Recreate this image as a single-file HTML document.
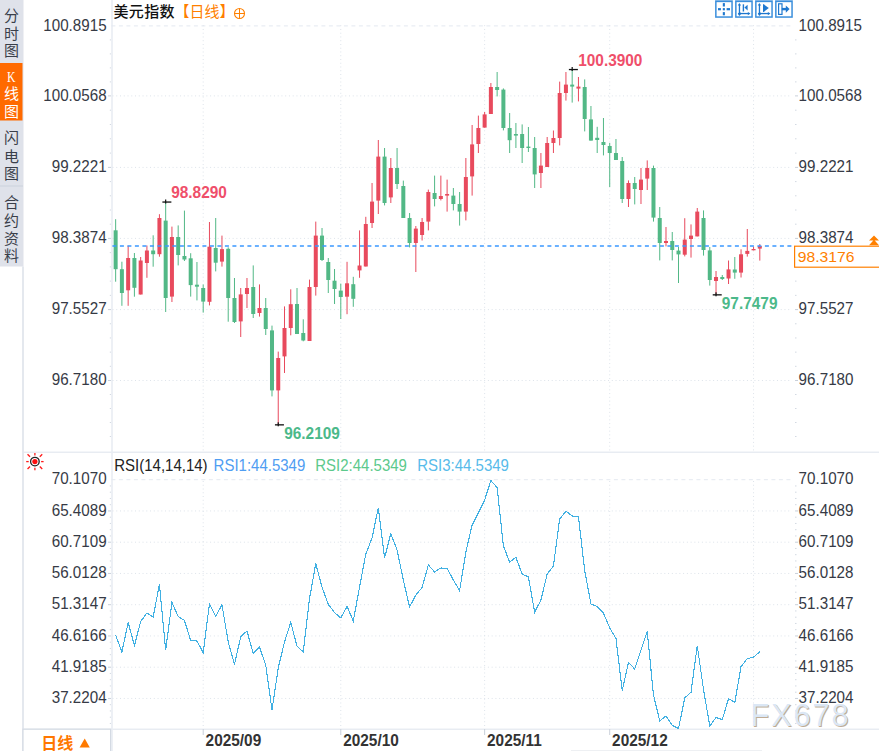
<!DOCTYPE html><html><head><meta charset="utf-8"><title>美元指数 日线</title><style>
html,body{margin:0;padding:0;background:#fff;}body{width:879px;height:751px;overflow:hidden;position:relative;}
svg{position:absolute;left:0;top:0;display:block;}
text{font-family:"Liberation Sans", Arial, "Noto Sans CJK SC", sans-serif;}
.cjk{font-family:"Liberation Sans", "Noto Sans CJK SC", "WenQuanYi Zen Hei", sans-serif;}
</style></head><body>
<svg width="879" height="751" viewBox="0 0 879 751">
<rect width="879" height="751" fill="#fff"/>
<rect x="0" y="0" width="23.5" height="266.5" fill="#dfe2ea"/>
<rect x="0" y="63" width="22.5" height="57.5" fill="#ff6a00"/>
<rect x="0" y="185.5" width="23" height="1" fill="#ccd2db"/>
<text class="cjk" x="11.5" y="21.2" font-size="15" fill="#3a3f4a" text-anchor="middle">分</text>
<text class="cjk" x="11.5" y="38.9" font-size="15" fill="#3a3f4a" text-anchor="middle">时</text>
<text class="cjk" x="11.5" y="56.3" font-size="15" fill="#3a3f4a" text-anchor="middle">图</text>
<text class="cjk" x="11.5" y="99.2" font-size="15" fill="#ffffff" text-anchor="middle">线</text>
<text class="cjk" x="11.5" y="116.6" font-size="15" fill="#ffffff" text-anchor="middle">图</text>
<text transform="translate(11.3 81.5) scale(0.76 1)" font-size="15.5" fill="#fff" text-anchor="middle" style="font-family:'Liberation Serif',serif">K</text>
<text class="cjk" x="11.5" y="143.4" font-size="15" fill="#3a3f4a" text-anchor="middle">闪</text>
<text class="cjk" x="11.5" y="162.0" font-size="15" fill="#3a3f4a" text-anchor="middle">电</text>
<text class="cjk" x="11.5" y="179.4" font-size="15" fill="#3a3f4a" text-anchor="middle">图</text>
<text class="cjk" x="11.5" y="207.7" font-size="15" fill="#3a3f4a" text-anchor="middle">合</text>
<text class="cjk" x="11.5" y="226.0" font-size="15" fill="#3a3f4a" text-anchor="middle">约</text>
<text class="cjk" x="11.5" y="244.0" font-size="15" fill="#3a3f4a" text-anchor="middle">资</text>
<text class="cjk" x="11.5" y="261.3" font-size="15" fill="#3a3f4a" text-anchor="middle">料</text>
<rect x="22.3" y="266.5" width="1.4" height="484.5" fill="#d9dfe7"/>
<rect x="23" y="451.6" width="856" height="1.2" fill="#e3e8ef"/>
<rect x="23" y="728.6" width="856" height="1.2" fill="#e3e8ef"/>
<rect x="111.2" y="0" width="1.6" height="751" fill="#e9edf3"/>
<line x1="111.4" y1="25.90" x2="792" y2="25.90" stroke="#e4e9f0" stroke-width="1" stroke-dasharray="4 3.5"/>
<line x1="112.5" y1="95.90" x2="792" y2="95.90" stroke="#dde3ea" stroke-width="1" stroke-dasharray="1 2.754"/>
<line x1="112.5" y1="167.40" x2="792" y2="167.40" stroke="#dde3ea" stroke-width="1" stroke-dasharray="1 2.754"/>
<line x1="112.5" y1="238.40" x2="792" y2="238.40" stroke="#dde3ea" stroke-width="1" stroke-dasharray="1 2.754"/>
<line x1="112.5" y1="309.60" x2="792" y2="309.60" stroke="#dde3ea" stroke-width="1" stroke-dasharray="1 2.754"/>
<line x1="112.5" y1="380.50" x2="792" y2="380.50" stroke="#dde3ea" stroke-width="1" stroke-dasharray="1 2.754"/>
<line x1="111.4" y1="479.70" x2="792" y2="479.70" stroke="#e4e9f0" stroke-width="1" stroke-dasharray="4 3.5"/>
<line x1="112.5" y1="510.95" x2="792" y2="510.95" stroke="#dde3ea" stroke-width="1" stroke-dasharray="1 2.754"/>
<line x1="112.5" y1="542.20" x2="792" y2="542.20" stroke="#dde3ea" stroke-width="1" stroke-dasharray="1 2.754"/>
<line x1="112.5" y1="573.45" x2="792" y2="573.45" stroke="#dde3ea" stroke-width="1" stroke-dasharray="1 2.754"/>
<line x1="112.5" y1="604.70" x2="792" y2="604.70" stroke="#dde3ea" stroke-width="1" stroke-dasharray="1 2.754"/>
<line x1="112.5" y1="635.95" x2="792" y2="635.95" stroke="#dde3ea" stroke-width="1" stroke-dasharray="1 2.754"/>
<line x1="112.5" y1="667.20" x2="792" y2="667.20" stroke="#dde3ea" stroke-width="1" stroke-dasharray="1 2.754"/>
<line x1="112.5" y1="698.45" x2="792" y2="698.45" stroke="#dde3ea" stroke-width="1" stroke-dasharray="1 2.754"/>
<line x1="203.20" y1="25.2" x2="203.20" y2="451" stroke="#dde3ea" stroke-width="1" stroke-dasharray="1 2.754"/>
<line x1="203.20" y1="481" x2="203.20" y2="728" stroke="#dde3ea" stroke-width="1" stroke-dasharray="1 2.754"/>
<line x1="340.78" y1="25.2" x2="340.78" y2="451" stroke="#dde3ea" stroke-width="1" stroke-dasharray="1 2.754"/>
<line x1="340.78" y1="481" x2="340.78" y2="728" stroke="#dde3ea" stroke-width="1" stroke-dasharray="1 2.754"/>
<line x1="484.63" y1="25.2" x2="484.63" y2="451" stroke="#dde3ea" stroke-width="1" stroke-dasharray="1 2.754"/>
<line x1="484.63" y1="481" x2="484.63" y2="728" stroke="#dde3ea" stroke-width="1" stroke-dasharray="1 2.754"/>
<line x1="609.71" y1="25.2" x2="609.71" y2="451" stroke="#dde3ea" stroke-width="1" stroke-dasharray="1 2.754"/>
<line x1="609.71" y1="481" x2="609.71" y2="728" stroke="#dde3ea" stroke-width="1" stroke-dasharray="1 2.754"/>
<line x1="753.55" y1="25.2" x2="753.55" y2="451" stroke="#dde3ea" stroke-width="1" stroke-dasharray="1 2.754"/>
<line x1="753.55" y1="481" x2="753.55" y2="728" stroke="#dde3ea" stroke-width="1" stroke-dasharray="1 2.754"/>
<line x1="109.8" y1="39.90" x2="111" y2="39.90" stroke="#d3d9e2" stroke-width="1"/>
<line x1="109.8" y1="53.90" x2="111" y2="53.90" stroke="#d3d9e2" stroke-width="1"/>
<line x1="109.8" y1="67.90" x2="111" y2="67.90" stroke="#d3d9e2" stroke-width="1"/>
<line x1="109.8" y1="81.90" x2="111" y2="81.90" stroke="#d3d9e2" stroke-width="1"/>
<line x1="108" y1="95.90" x2="111" y2="95.90" stroke="#c9d0da" stroke-width="1"/>
<line x1="109.8" y1="110.20" x2="111" y2="110.20" stroke="#d3d9e2" stroke-width="1"/>
<line x1="109.8" y1="124.50" x2="111" y2="124.50" stroke="#d3d9e2" stroke-width="1"/>
<line x1="109.8" y1="138.80" x2="111" y2="138.80" stroke="#d3d9e2" stroke-width="1"/>
<line x1="109.8" y1="153.10" x2="111" y2="153.10" stroke="#d3d9e2" stroke-width="1"/>
<line x1="108" y1="167.40" x2="111" y2="167.40" stroke="#c9d0da" stroke-width="1"/>
<line x1="109.8" y1="181.60" x2="111" y2="181.60" stroke="#d3d9e2" stroke-width="1"/>
<line x1="109.8" y1="195.80" x2="111" y2="195.80" stroke="#d3d9e2" stroke-width="1"/>
<line x1="109.8" y1="210.00" x2="111" y2="210.00" stroke="#d3d9e2" stroke-width="1"/>
<line x1="109.8" y1="224.20" x2="111" y2="224.20" stroke="#d3d9e2" stroke-width="1"/>
<line x1="108" y1="238.40" x2="111" y2="238.40" stroke="#c9d0da" stroke-width="1"/>
<line x1="109.8" y1="252.64" x2="111" y2="252.64" stroke="#d3d9e2" stroke-width="1"/>
<line x1="109.8" y1="266.88" x2="111" y2="266.88" stroke="#d3d9e2" stroke-width="1"/>
<line x1="109.8" y1="281.12" x2="111" y2="281.12" stroke="#d3d9e2" stroke-width="1"/>
<line x1="109.8" y1="295.36" x2="111" y2="295.36" stroke="#d3d9e2" stroke-width="1"/>
<line x1="108" y1="309.60" x2="111" y2="309.60" stroke="#c9d0da" stroke-width="1"/>
<line x1="109.8" y1="323.78" x2="111" y2="323.78" stroke="#d3d9e2" stroke-width="1"/>
<line x1="109.8" y1="337.96" x2="111" y2="337.96" stroke="#d3d9e2" stroke-width="1"/>
<line x1="109.8" y1="352.14" x2="111" y2="352.14" stroke="#d3d9e2" stroke-width="1"/>
<line x1="109.8" y1="366.32" x2="111" y2="366.32" stroke="#d3d9e2" stroke-width="1"/>
<line x1="108" y1="380.50" x2="111" y2="380.50" stroke="#c9d0da" stroke-width="1"/>
<line x1="109.8" y1="394.50" x2="111" y2="394.50" stroke="#d3d9e2" stroke-width="1"/>
<line x1="109.8" y1="408.50" x2="111" y2="408.50" stroke="#d3d9e2" stroke-width="1"/>
<line x1="109.8" y1="422.50" x2="111" y2="422.50" stroke="#d3d9e2" stroke-width="1"/>
<line x1="109.8" y1="436.50" x2="111" y2="436.50" stroke="#d3d9e2" stroke-width="1"/>
<line x1="109.8" y1="485.95" x2="111" y2="485.95" stroke="#d3d9e2" stroke-width="1"/>
<line x1="109.8" y1="492.20" x2="111" y2="492.20" stroke="#d3d9e2" stroke-width="1"/>
<line x1="109.8" y1="498.45" x2="111" y2="498.45" stroke="#d3d9e2" stroke-width="1"/>
<line x1="109.8" y1="504.70" x2="111" y2="504.70" stroke="#d3d9e2" stroke-width="1"/>
<line x1="108" y1="510.95" x2="111" y2="510.95" stroke="#c9d0da" stroke-width="1"/>
<line x1="109.8" y1="517.20" x2="111" y2="517.20" stroke="#d3d9e2" stroke-width="1"/>
<line x1="109.8" y1="523.45" x2="111" y2="523.45" stroke="#d3d9e2" stroke-width="1"/>
<line x1="109.8" y1="529.70" x2="111" y2="529.70" stroke="#d3d9e2" stroke-width="1"/>
<line x1="109.8" y1="535.95" x2="111" y2="535.95" stroke="#d3d9e2" stroke-width="1"/>
<line x1="108" y1="542.20" x2="111" y2="542.20" stroke="#c9d0da" stroke-width="1"/>
<line x1="109.8" y1="548.45" x2="111" y2="548.45" stroke="#d3d9e2" stroke-width="1"/>
<line x1="109.8" y1="554.70" x2="111" y2="554.70" stroke="#d3d9e2" stroke-width="1"/>
<line x1="109.8" y1="560.95" x2="111" y2="560.95" stroke="#d3d9e2" stroke-width="1"/>
<line x1="109.8" y1="567.20" x2="111" y2="567.20" stroke="#d3d9e2" stroke-width="1"/>
<line x1="108" y1="573.45" x2="111" y2="573.45" stroke="#c9d0da" stroke-width="1"/>
<line x1="109.8" y1="579.70" x2="111" y2="579.70" stroke="#d3d9e2" stroke-width="1"/>
<line x1="109.8" y1="585.95" x2="111" y2="585.95" stroke="#d3d9e2" stroke-width="1"/>
<line x1="109.8" y1="592.20" x2="111" y2="592.20" stroke="#d3d9e2" stroke-width="1"/>
<line x1="109.8" y1="598.45" x2="111" y2="598.45" stroke="#d3d9e2" stroke-width="1"/>
<line x1="108" y1="604.70" x2="111" y2="604.70" stroke="#c9d0da" stroke-width="1"/>
<line x1="109.8" y1="610.95" x2="111" y2="610.95" stroke="#d3d9e2" stroke-width="1"/>
<line x1="109.8" y1="617.20" x2="111" y2="617.20" stroke="#d3d9e2" stroke-width="1"/>
<line x1="109.8" y1="623.45" x2="111" y2="623.45" stroke="#d3d9e2" stroke-width="1"/>
<line x1="109.8" y1="629.70" x2="111" y2="629.70" stroke="#d3d9e2" stroke-width="1"/>
<line x1="108" y1="635.95" x2="111" y2="635.95" stroke="#c9d0da" stroke-width="1"/>
<line x1="109.8" y1="642.20" x2="111" y2="642.20" stroke="#d3d9e2" stroke-width="1"/>
<line x1="109.8" y1="648.45" x2="111" y2="648.45" stroke="#d3d9e2" stroke-width="1"/>
<line x1="109.8" y1="654.70" x2="111" y2="654.70" stroke="#d3d9e2" stroke-width="1"/>
<line x1="109.8" y1="660.95" x2="111" y2="660.95" stroke="#d3d9e2" stroke-width="1"/>
<line x1="108" y1="667.20" x2="111" y2="667.20" stroke="#c9d0da" stroke-width="1"/>
<line x1="109.8" y1="673.45" x2="111" y2="673.45" stroke="#d3d9e2" stroke-width="1"/>
<line x1="109.8" y1="679.70" x2="111" y2="679.70" stroke="#d3d9e2" stroke-width="1"/>
<line x1="109.8" y1="685.95" x2="111" y2="685.95" stroke="#d3d9e2" stroke-width="1"/>
<line x1="109.8" y1="692.20" x2="111" y2="692.20" stroke="#d3d9e2" stroke-width="1"/>
<line x1="108" y1="698.45" x2="111" y2="698.45" stroke="#c9d0da" stroke-width="1"/>
<line x1="109.8" y1="704.70" x2="111" y2="704.70" stroke="#d3d9e2" stroke-width="1"/>
<line x1="109.8" y1="710.95" x2="111" y2="710.95" stroke="#d3d9e2" stroke-width="1"/>
<line x1="109.8" y1="717.20" x2="111" y2="717.20" stroke="#d3d9e2" stroke-width="1"/>
<line x1="109.8" y1="723.45" x2="111" y2="723.45" stroke="#d3d9e2" stroke-width="1"/>
<line x1="795" y1="39.90" x2="796.5" y2="39.90" stroke="#d3d9e2" stroke-width="1"/>
<line x1="795" y1="53.90" x2="796.5" y2="53.90" stroke="#d3d9e2" stroke-width="1"/>
<line x1="795" y1="67.90" x2="796.5" y2="67.90" stroke="#d3d9e2" stroke-width="1"/>
<line x1="795" y1="81.90" x2="796.5" y2="81.90" stroke="#d3d9e2" stroke-width="1"/>
<line x1="795" y1="95.90" x2="798" y2="95.90" stroke="#c9d0da" stroke-width="1"/>
<line x1="795" y1="110.20" x2="796.5" y2="110.20" stroke="#d3d9e2" stroke-width="1"/>
<line x1="795" y1="124.50" x2="796.5" y2="124.50" stroke="#d3d9e2" stroke-width="1"/>
<line x1="795" y1="138.80" x2="796.5" y2="138.80" stroke="#d3d9e2" stroke-width="1"/>
<line x1="795" y1="153.10" x2="796.5" y2="153.10" stroke="#d3d9e2" stroke-width="1"/>
<line x1="795" y1="167.40" x2="798" y2="167.40" stroke="#c9d0da" stroke-width="1"/>
<line x1="795" y1="181.60" x2="796.5" y2="181.60" stroke="#d3d9e2" stroke-width="1"/>
<line x1="795" y1="195.80" x2="796.5" y2="195.80" stroke="#d3d9e2" stroke-width="1"/>
<line x1="795" y1="210.00" x2="796.5" y2="210.00" stroke="#d3d9e2" stroke-width="1"/>
<line x1="795" y1="224.20" x2="796.5" y2="224.20" stroke="#d3d9e2" stroke-width="1"/>
<line x1="795" y1="238.40" x2="798" y2="238.40" stroke="#c9d0da" stroke-width="1"/>
<line x1="795" y1="252.64" x2="796.5" y2="252.64" stroke="#d3d9e2" stroke-width="1"/>
<line x1="795" y1="266.88" x2="796.5" y2="266.88" stroke="#d3d9e2" stroke-width="1"/>
<line x1="795" y1="281.12" x2="796.5" y2="281.12" stroke="#d3d9e2" stroke-width="1"/>
<line x1="795" y1="295.36" x2="796.5" y2="295.36" stroke="#d3d9e2" stroke-width="1"/>
<line x1="795" y1="309.60" x2="798" y2="309.60" stroke="#c9d0da" stroke-width="1"/>
<line x1="795" y1="323.78" x2="796.5" y2="323.78" stroke="#d3d9e2" stroke-width="1"/>
<line x1="795" y1="337.96" x2="796.5" y2="337.96" stroke="#d3d9e2" stroke-width="1"/>
<line x1="795" y1="352.14" x2="796.5" y2="352.14" stroke="#d3d9e2" stroke-width="1"/>
<line x1="795" y1="366.32" x2="796.5" y2="366.32" stroke="#d3d9e2" stroke-width="1"/>
<line x1="795" y1="380.50" x2="798" y2="380.50" stroke="#c9d0da" stroke-width="1"/>
<line x1="795" y1="394.50" x2="796.5" y2="394.50" stroke="#d3d9e2" stroke-width="1"/>
<line x1="795" y1="408.50" x2="796.5" y2="408.50" stroke="#d3d9e2" stroke-width="1"/>
<line x1="795" y1="422.50" x2="796.5" y2="422.50" stroke="#d3d9e2" stroke-width="1"/>
<line x1="795" y1="436.50" x2="796.5" y2="436.50" stroke="#d3d9e2" stroke-width="1"/>
<line x1="795" y1="485.95" x2="796.5" y2="485.95" stroke="#d3d9e2" stroke-width="1"/>
<line x1="795" y1="492.20" x2="796.5" y2="492.20" stroke="#d3d9e2" stroke-width="1"/>
<line x1="795" y1="498.45" x2="796.5" y2="498.45" stroke="#d3d9e2" stroke-width="1"/>
<line x1="795" y1="504.70" x2="796.5" y2="504.70" stroke="#d3d9e2" stroke-width="1"/>
<line x1="795" y1="510.95" x2="798" y2="510.95" stroke="#c9d0da" stroke-width="1"/>
<line x1="795" y1="517.20" x2="796.5" y2="517.20" stroke="#d3d9e2" stroke-width="1"/>
<line x1="795" y1="523.45" x2="796.5" y2="523.45" stroke="#d3d9e2" stroke-width="1"/>
<line x1="795" y1="529.70" x2="796.5" y2="529.70" stroke="#d3d9e2" stroke-width="1"/>
<line x1="795" y1="535.95" x2="796.5" y2="535.95" stroke="#d3d9e2" stroke-width="1"/>
<line x1="795" y1="542.20" x2="798" y2="542.20" stroke="#c9d0da" stroke-width="1"/>
<line x1="795" y1="548.45" x2="796.5" y2="548.45" stroke="#d3d9e2" stroke-width="1"/>
<line x1="795" y1="554.70" x2="796.5" y2="554.70" stroke="#d3d9e2" stroke-width="1"/>
<line x1="795" y1="560.95" x2="796.5" y2="560.95" stroke="#d3d9e2" stroke-width="1"/>
<line x1="795" y1="567.20" x2="796.5" y2="567.20" stroke="#d3d9e2" stroke-width="1"/>
<line x1="795" y1="573.45" x2="798" y2="573.45" stroke="#c9d0da" stroke-width="1"/>
<line x1="795" y1="579.70" x2="796.5" y2="579.70" stroke="#d3d9e2" stroke-width="1"/>
<line x1="795" y1="585.95" x2="796.5" y2="585.95" stroke="#d3d9e2" stroke-width="1"/>
<line x1="795" y1="592.20" x2="796.5" y2="592.20" stroke="#d3d9e2" stroke-width="1"/>
<line x1="795" y1="598.45" x2="796.5" y2="598.45" stroke="#d3d9e2" stroke-width="1"/>
<line x1="795" y1="604.70" x2="798" y2="604.70" stroke="#c9d0da" stroke-width="1"/>
<line x1="795" y1="610.95" x2="796.5" y2="610.95" stroke="#d3d9e2" stroke-width="1"/>
<line x1="795" y1="617.20" x2="796.5" y2="617.20" stroke="#d3d9e2" stroke-width="1"/>
<line x1="795" y1="623.45" x2="796.5" y2="623.45" stroke="#d3d9e2" stroke-width="1"/>
<line x1="795" y1="629.70" x2="796.5" y2="629.70" stroke="#d3d9e2" stroke-width="1"/>
<line x1="795" y1="635.95" x2="798" y2="635.95" stroke="#c9d0da" stroke-width="1"/>
<line x1="795" y1="642.20" x2="796.5" y2="642.20" stroke="#d3d9e2" stroke-width="1"/>
<line x1="795" y1="648.45" x2="796.5" y2="648.45" stroke="#d3d9e2" stroke-width="1"/>
<line x1="795" y1="654.70" x2="796.5" y2="654.70" stroke="#d3d9e2" stroke-width="1"/>
<line x1="795" y1="660.95" x2="796.5" y2="660.95" stroke="#d3d9e2" stroke-width="1"/>
<line x1="795" y1="667.20" x2="798" y2="667.20" stroke="#c9d0da" stroke-width="1"/>
<line x1="795" y1="673.45" x2="796.5" y2="673.45" stroke="#d3d9e2" stroke-width="1"/>
<line x1="795" y1="679.70" x2="796.5" y2="679.70" stroke="#d3d9e2" stroke-width="1"/>
<line x1="795" y1="685.95" x2="796.5" y2="685.95" stroke="#d3d9e2" stroke-width="1"/>
<line x1="795" y1="692.20" x2="796.5" y2="692.20" stroke="#d3d9e2" stroke-width="1"/>
<line x1="795" y1="698.45" x2="798" y2="698.45" stroke="#c9d0da" stroke-width="1"/>
<line x1="795" y1="704.70" x2="796.5" y2="704.70" stroke="#d3d9e2" stroke-width="1"/>
<line x1="795" y1="710.95" x2="796.5" y2="710.95" stroke="#d3d9e2" stroke-width="1"/>
<line x1="795" y1="717.20" x2="796.5" y2="717.20" stroke="#d3d9e2" stroke-width="1"/>
<line x1="795" y1="723.45" x2="796.5" y2="723.45" stroke="#d3d9e2" stroke-width="1"/>
<text transform="translate(106.60 30.50) scale(1 1.100)" font-size="15.2" fill="#363a45" text-anchor="end">100.8915</text>
<text transform="translate(798.60 30.50) scale(1 1.100)" font-size="15.2" fill="#363a45">100.8915</text>
<text transform="translate(106.60 100.50) scale(1 1.100)" font-size="15.2" fill="#363a45" text-anchor="end">100.0568</text>
<text transform="translate(798.60 100.50) scale(1 1.100)" font-size="15.2" fill="#363a45">100.0568</text>
<text transform="translate(106.60 172.00) scale(1 1.100)" font-size="15.2" fill="#363a45" text-anchor="end">99.2221</text>
<text transform="translate(798.60 172.00) scale(1 1.100)" font-size="15.2" fill="#363a45">99.2221</text>
<text transform="translate(106.60 243.00) scale(1 1.100)" font-size="15.2" fill="#363a45" text-anchor="end">98.3874</text>
<text transform="translate(798.60 243.00) scale(1 1.100)" font-size="15.2" fill="#363a45">98.3874</text>
<text transform="translate(106.60 314.20) scale(1 1.100)" font-size="15.2" fill="#363a45" text-anchor="end">97.5527</text>
<text transform="translate(798.60 314.20) scale(1 1.100)" font-size="15.2" fill="#363a45">97.5527</text>
<text transform="translate(106.60 385.10) scale(1 1.100)" font-size="15.2" fill="#363a45" text-anchor="end">96.7180</text>
<text transform="translate(798.60 385.10) scale(1 1.100)" font-size="15.2" fill="#363a45">96.7180</text>
<text transform="translate(106.60 484.30) scale(1 1.100)" font-size="15.2" fill="#363a45" text-anchor="end">70.1070</text>
<text transform="translate(798.60 484.30) scale(1 1.100)" font-size="15.2" fill="#363a45">70.1070</text>
<text transform="translate(106.60 515.55) scale(1 1.100)" font-size="15.2" fill="#363a45" text-anchor="end">65.4089</text>
<text transform="translate(798.60 515.55) scale(1 1.100)" font-size="15.2" fill="#363a45">65.4089</text>
<text transform="translate(106.60 546.80) scale(1 1.100)" font-size="15.2" fill="#363a45" text-anchor="end">60.7109</text>
<text transform="translate(798.60 546.80) scale(1 1.100)" font-size="15.2" fill="#363a45">60.7109</text>
<text transform="translate(106.60 578.05) scale(1 1.100)" font-size="15.2" fill="#363a45" text-anchor="end">56.0128</text>
<text transform="translate(798.60 578.05) scale(1 1.100)" font-size="15.2" fill="#363a45">56.0128</text>
<text transform="translate(106.60 609.30) scale(1 1.100)" font-size="15.2" fill="#363a45" text-anchor="end">51.3147</text>
<text transform="translate(798.60 609.30) scale(1 1.100)" font-size="15.2" fill="#363a45">51.3147</text>
<text transform="translate(106.60 640.55) scale(1 1.100)" font-size="15.2" fill="#363a45" text-anchor="end">46.6166</text>
<text transform="translate(798.60 640.55) scale(1 1.100)" font-size="15.2" fill="#363a45">46.6166</text>
<text transform="translate(106.60 671.80) scale(1 1.100)" font-size="15.2" fill="#363a45" text-anchor="end">41.9185</text>
<text transform="translate(798.60 671.80) scale(1 1.100)" font-size="15.2" fill="#363a45">41.9185</text>
<text transform="translate(106.60 703.05) scale(1 1.100)" font-size="15.2" fill="#363a45" text-anchor="end">37.2204</text>
<text transform="translate(798.60 703.05) scale(1 1.100)" font-size="15.2" fill="#363a45">37.2204</text>
<rect x="115.14" y="219.20" width="1" height="62.50" fill="#52b886"/>
<rect x="113.64" y="230.30" width="4" height="38.90" fill="#52b886"/>
<rect x="121.39" y="261.70" width="1" height="44.10" fill="#52b886"/>
<rect x="119.89" y="269.20" width="4" height="23.80" fill="#52b886"/>
<rect x="127.65" y="245.80" width="1" height="60.00" fill="#e84a5d"/>
<rect x="126.15" y="258.00" width="4" height="32.30" fill="#e84a5d"/>
<rect x="133.90" y="253.00" width="1" height="43.70" fill="#52b886"/>
<rect x="132.40" y="258.00" width="4" height="29.80" fill="#52b886"/>
<rect x="140.16" y="257.00" width="1" height="37.50" fill="#e84a5d"/>
<rect x="138.66" y="260.50" width="4" height="34.00" fill="#e84a5d"/>
<rect x="146.41" y="245.50" width="1" height="32.30" fill="#e84a5d"/>
<rect x="144.91" y="250.50" width="4" height="12.50" fill="#e84a5d"/>
<rect x="152.66" y="235.30" width="1" height="31.40" fill="#52b886"/>
<rect x="151.16" y="250.50" width="4" height="3.70" fill="#52b886"/>
<rect x="158.92" y="214.20" width="1" height="42.50" fill="#e84a5d"/>
<rect x="157.42" y="218.00" width="4" height="36.20" fill="#e84a5d"/>
<rect x="165.17" y="202.00" width="1" height="110.00" fill="#52b886"/>
<rect x="163.67" y="220.60" width="4" height="77.40" fill="#52b886"/>
<rect x="171.43" y="226.60" width="1" height="75.40" fill="#e84a5d"/>
<rect x="169.93" y="237.00" width="4" height="59.60" fill="#e84a5d"/>
<rect x="177.68" y="225.40" width="1" height="40.00" fill="#52b886"/>
<rect x="176.18" y="237.00" width="4" height="18.00" fill="#52b886"/>
<rect x="183.93" y="210.60" width="1" height="50.40" fill="#52b886"/>
<rect x="182.43" y="256.00" width="4" height="3.50" fill="#52b886"/>
<rect x="190.19" y="253.20" width="1" height="43.40" fill="#52b886"/>
<rect x="188.69" y="258.30" width="4" height="26.80" fill="#52b886"/>
<rect x="196.44" y="262.00" width="1" height="38.40" fill="#52b886"/>
<rect x="194.94" y="284.70" width="4" height="2.00" fill="#52b886"/>
<rect x="202.70" y="284.50" width="1" height="28.10" fill="#52b886"/>
<rect x="201.20" y="288.00" width="4" height="13.60" fill="#52b886"/>
<rect x="208.95" y="222.00" width="1" height="83.40" fill="#e84a5d"/>
<rect x="207.45" y="246.70" width="4" height="55.10" fill="#e84a5d"/>
<rect x="215.20" y="218.00" width="1" height="53.40" fill="#52b886"/>
<rect x="213.70" y="248.00" width="4" height="14.70" fill="#52b886"/>
<rect x="221.46" y="235.60" width="1" height="31.00" fill="#e84a5d"/>
<rect x="219.96" y="249.10" width="4" height="12.50" fill="#e84a5d"/>
<rect x="227.71" y="247.30" width="1" height="74.40" fill="#52b886"/>
<rect x="226.21" y="248.80" width="4" height="49.20" fill="#52b886"/>
<rect x="233.97" y="278.00" width="1" height="45.00" fill="#52b886"/>
<rect x="232.47" y="298.00" width="4" height="24.00" fill="#52b886"/>
<rect x="240.22" y="288.00" width="1" height="49.00" fill="#e84a5d"/>
<rect x="238.72" y="294.40" width="4" height="27.00" fill="#e84a5d"/>
<rect x="246.47" y="278.00" width="1" height="30.00" fill="#e84a5d"/>
<rect x="244.97" y="288.00" width="4" height="6.00" fill="#e84a5d"/>
<rect x="252.73" y="265.40" width="1" height="52.60" fill="#52b886"/>
<rect x="251.23" y="287.00" width="4" height="27.00" fill="#52b886"/>
<rect x="258.98" y="284.40" width="1" height="32.20" fill="#e84a5d"/>
<rect x="257.48" y="308.00" width="4" height="5.00" fill="#e84a5d"/>
<rect x="265.24" y="298.00" width="1" height="37.00" fill="#52b886"/>
<rect x="263.74" y="308.00" width="4" height="21.00" fill="#52b886"/>
<rect x="271.49" y="325.60" width="1" height="70.80" fill="#52b886"/>
<rect x="269.99" y="330.40" width="4" height="60.00" fill="#52b886"/>
<rect x="277.74" y="351.60" width="1" height="72.80" fill="#e84a5d"/>
<rect x="276.24" y="358.00" width="4" height="32.40" fill="#e84a5d"/>
<rect x="284.00" y="306.40" width="1" height="66.60" fill="#e84a5d"/>
<rect x="282.50" y="328.00" width="4" height="28.40" fill="#e84a5d"/>
<rect x="290.25" y="289.30" width="1" height="46.00" fill="#e84a5d"/>
<rect x="288.75" y="304.20" width="4" height="23.80" fill="#e84a5d"/>
<rect x="296.51" y="288.00" width="1" height="46.00" fill="#52b886"/>
<rect x="295.01" y="304.00" width="4" height="30.00" fill="#52b886"/>
<rect x="302.76" y="319.30" width="1" height="22.00" fill="#52b886"/>
<rect x="301.26" y="333.00" width="4" height="7.50" fill="#52b886"/>
<rect x="309.01" y="279.60" width="1" height="61.40" fill="#e84a5d"/>
<rect x="307.51" y="287.00" width="4" height="54.00" fill="#e84a5d"/>
<rect x="315.27" y="221.60" width="1" height="74.00" fill="#e84a5d"/>
<rect x="313.77" y="235.60" width="4" height="51.40" fill="#e84a5d"/>
<rect x="321.52" y="228.00" width="1" height="33.00" fill="#52b886"/>
<rect x="320.02" y="235.60" width="4" height="24.40" fill="#52b886"/>
<rect x="327.78" y="258.00" width="1" height="35.00" fill="#52b886"/>
<rect x="326.28" y="262.00" width="4" height="18.00" fill="#52b886"/>
<rect x="334.03" y="269.00" width="1" height="35.00" fill="#52b886"/>
<rect x="332.53" y="280.70" width="4" height="8.30" fill="#52b886"/>
<rect x="340.28" y="283.60" width="1" height="35.40" fill="#52b886"/>
<rect x="338.78" y="290.60" width="4" height="6.40" fill="#52b886"/>
<rect x="346.54" y="261.80" width="1" height="52.40" fill="#e84a5d"/>
<rect x="345.04" y="283.30" width="4" height="13.40" fill="#e84a5d"/>
<rect x="352.79" y="276.80" width="1" height="30.00" fill="#52b886"/>
<rect x="351.29" y="284.20" width="4" height="14.60" fill="#52b886"/>
<rect x="359.05" y="230.40" width="1" height="47.40" fill="#e84a5d"/>
<rect x="357.55" y="265.50" width="4" height="4.90" fill="#e84a5d"/>
<rect x="365.30" y="216.80" width="1" height="49.70" fill="#e84a5d"/>
<rect x="363.80" y="224.00" width="4" height="42.50" fill="#e84a5d"/>
<rect x="371.55" y="183.00" width="1" height="45.00" fill="#e84a5d"/>
<rect x="370.05" y="201.60" width="4" height="21.40" fill="#e84a5d"/>
<rect x="377.81" y="140.00" width="1" height="74.00" fill="#e84a5d"/>
<rect x="376.31" y="156.60" width="4" height="44.00" fill="#e84a5d"/>
<rect x="384.06" y="148.00" width="1" height="57.40" fill="#52b886"/>
<rect x="382.56" y="156.60" width="4" height="46.40" fill="#52b886"/>
<rect x="390.32" y="158.00" width="1" height="45.00" fill="#e84a5d"/>
<rect x="388.82" y="168.00" width="4" height="29.40" fill="#e84a5d"/>
<rect x="396.57" y="148.00" width="1" height="41.00" fill="#52b886"/>
<rect x="395.07" y="168.00" width="4" height="16.00" fill="#52b886"/>
<rect x="402.82" y="180.60" width="1" height="37.40" fill="#52b886"/>
<rect x="401.32" y="186.00" width="4" height="32.00" fill="#52b886"/>
<rect x="409.08" y="213.00" width="1" height="34.40" fill="#52b886"/>
<rect x="407.58" y="218.00" width="4" height="25.00" fill="#52b886"/>
<rect x="415.33" y="226.00" width="1" height="46.00" fill="#e84a5d"/>
<rect x="413.83" y="228.60" width="4" height="14.40" fill="#e84a5d"/>
<rect x="421.59" y="218.00" width="1" height="22.50" fill="#e84a5d"/>
<rect x="420.09" y="222.00" width="4" height="13.00" fill="#e84a5d"/>
<rect x="427.84" y="189.60" width="1" height="40.80" fill="#e84a5d"/>
<rect x="426.34" y="192.00" width="4" height="29.60" fill="#e84a5d"/>
<rect x="434.09" y="175.60" width="1" height="30.80" fill="#52b886"/>
<rect x="432.59" y="193.00" width="4" height="6.00" fill="#52b886"/>
<rect x="440.35" y="175.60" width="1" height="24.80" fill="#e84a5d"/>
<rect x="438.85" y="196.00" width="4" height="3.00" fill="#e84a5d"/>
<rect x="446.60" y="179.60" width="1" height="32.00" fill="#e84a5d"/>
<rect x="445.10" y="194.00" width="4" height="1.60" fill="#e84a5d"/>
<rect x="452.86" y="188.00" width="1" height="22.40" fill="#52b886"/>
<rect x="451.36" y="195.60" width="4" height="8.40" fill="#52b886"/>
<rect x="459.11" y="192.00" width="1" height="33.60" fill="#52b886"/>
<rect x="457.61" y="204.00" width="4" height="7.60" fill="#52b886"/>
<rect x="465.36" y="158.00" width="1" height="62.40" fill="#e84a5d"/>
<rect x="463.86" y="177.00" width="4" height="34.60" fill="#e84a5d"/>
<rect x="471.62" y="125.00" width="1" height="70.60" fill="#e84a5d"/>
<rect x="470.12" y="144.40" width="4" height="32.00" fill="#e84a5d"/>
<rect x="477.87" y="115.60" width="1" height="37.40" fill="#e84a5d"/>
<rect x="476.37" y="128.00" width="4" height="16.00" fill="#e84a5d"/>
<rect x="484.13" y="112.00" width="1" height="15.60" fill="#e84a5d"/>
<rect x="482.63" y="114.40" width="4" height="13.20" fill="#e84a5d"/>
<rect x="490.38" y="83.00" width="1" height="31.00" fill="#e84a5d"/>
<rect x="488.88" y="87.00" width="4" height="27.00" fill="#e84a5d"/>
<rect x="496.63" y="72.00" width="1" height="24.40" fill="#52b886"/>
<rect x="495.13" y="87.00" width="4" height="3.00" fill="#52b886"/>
<rect x="502.89" y="88.40" width="1" height="42.00" fill="#52b886"/>
<rect x="501.39" y="89.60" width="4" height="38.40" fill="#52b886"/>
<rect x="509.14" y="113.00" width="1" height="40.00" fill="#52b886"/>
<rect x="507.64" y="128.00" width="4" height="12.20" fill="#52b886"/>
<rect x="515.40" y="123.00" width="1" height="25.00" fill="#52b886"/>
<rect x="513.90" y="134.00" width="4" height="1.60" fill="#52b886"/>
<rect x="521.65" y="124.40" width="1" height="38.60" fill="#52b886"/>
<rect x="520.15" y="134.00" width="4" height="14.00" fill="#52b886"/>
<rect x="527.90" y="127.00" width="1" height="25.00" fill="#52b886"/>
<rect x="526.40" y="146.60" width="4" height="1.40" fill="#52b886"/>
<rect x="534.16" y="137.00" width="1" height="51.00" fill="#52b886"/>
<rect x="532.66" y="148.00" width="4" height="26.40" fill="#52b886"/>
<rect x="540.41" y="153.00" width="1" height="35.00" fill="#e84a5d"/>
<rect x="538.91" y="165.60" width="4" height="7.40" fill="#e84a5d"/>
<rect x="546.67" y="137.00" width="1" height="30.00" fill="#e84a5d"/>
<rect x="545.17" y="143.00" width="4" height="24.00" fill="#e84a5d"/>
<rect x="552.92" y="130.50" width="1" height="22.50" fill="#e84a5d"/>
<rect x="551.42" y="138.00" width="4" height="5.00" fill="#e84a5d"/>
<rect x="559.17" y="81.60" width="1" height="63.80" fill="#e84a5d"/>
<rect x="557.67" y="93.00" width="4" height="45.00" fill="#e84a5d"/>
<rect x="565.43" y="72.00" width="1" height="28.60" fill="#e84a5d"/>
<rect x="563.93" y="84.60" width="4" height="8.40" fill="#e84a5d"/>
<rect x="571.68" y="69.00" width="1" height="33.60" fill="#52b886"/>
<rect x="570.18" y="84.60" width="4" height="2.00" fill="#52b886"/>
<rect x="577.94" y="77.00" width="1" height="24.40" fill="#e84a5d"/>
<rect x="576.44" y="86.60" width="4" height="2.00" fill="#e84a5d"/>
<rect x="584.19" y="79.40" width="1" height="52.00" fill="#52b886"/>
<rect x="582.69" y="87.00" width="4" height="32.00" fill="#52b886"/>
<rect x="590.44" y="106.00" width="1" height="34.60" fill="#52b886"/>
<rect x="588.94" y="119.40" width="4" height="21.20" fill="#52b886"/>
<rect x="596.70" y="126.80" width="1" height="26.20" fill="#52b886"/>
<rect x="595.20" y="137.80" width="4" height="2.20" fill="#52b886"/>
<rect x="602.95" y="118.00" width="1" height="37.40" fill="#52b886"/>
<rect x="601.45" y="142.00" width="4" height="3.00" fill="#52b886"/>
<rect x="609.21" y="143.00" width="1" height="44.00" fill="#52b886"/>
<rect x="607.71" y="146.00" width="4" height="7.00" fill="#52b886"/>
<rect x="615.46" y="139.00" width="1" height="21.00" fill="#52b886"/>
<rect x="613.96" y="153.00" width="4" height="7.00" fill="#52b886"/>
<rect x="621.71" y="157.00" width="1" height="46.00" fill="#52b886"/>
<rect x="620.21" y="161.00" width="4" height="38.00" fill="#52b886"/>
<rect x="627.97" y="180.40" width="1" height="26.60" fill="#e84a5d"/>
<rect x="626.47" y="183.00" width="4" height="16.00" fill="#e84a5d"/>
<rect x="634.22" y="177.00" width="1" height="27.40" fill="#52b886"/>
<rect x="632.72" y="183.00" width="4" height="6.00" fill="#52b886"/>
<rect x="640.48" y="168.00" width="1" height="36.00" fill="#e84a5d"/>
<rect x="638.98" y="179.60" width="4" height="10.40" fill="#e84a5d"/>
<rect x="646.73" y="160.40" width="1" height="29.60" fill="#e84a5d"/>
<rect x="645.23" y="168.00" width="4" height="10.60" fill="#e84a5d"/>
<rect x="652.98" y="165.60" width="1" height="56.00" fill="#52b886"/>
<rect x="651.48" y="168.00" width="4" height="49.60" fill="#52b886"/>
<rect x="659.24" y="207.00" width="1" height="53.40" fill="#52b886"/>
<rect x="657.74" y="218.00" width="4" height="25.00" fill="#52b886"/>
<rect x="665.49" y="227.00" width="1" height="19.40" fill="#e84a5d"/>
<rect x="663.99" y="241.00" width="4" height="2.00" fill="#e84a5d"/>
<rect x="671.75" y="232.00" width="1" height="28.40" fill="#52b886"/>
<rect x="670.25" y="241.00" width="4" height="9.00" fill="#52b886"/>
<rect x="678.00" y="247.00" width="1" height="36.00" fill="#52b886"/>
<rect x="676.50" y="250.60" width="4" height="3.80" fill="#52b886"/>
<rect x="684.25" y="218.20" width="1" height="38.20" fill="#e84a5d"/>
<rect x="682.75" y="239.60" width="4" height="15.10" fill="#e84a5d"/>
<rect x="690.51" y="224.40" width="1" height="33.20" fill="#e84a5d"/>
<rect x="689.01" y="235.60" width="4" height="3.40" fill="#e84a5d"/>
<rect x="696.76" y="208.00" width="1" height="28.40" fill="#e84a5d"/>
<rect x="695.26" y="211.60" width="4" height="24.80" fill="#e84a5d"/>
<rect x="703.02" y="210.40" width="1" height="45.20" fill="#52b886"/>
<rect x="701.52" y="218.00" width="4" height="32.00" fill="#52b886"/>
<rect x="709.27" y="247.00" width="1" height="38.60" fill="#52b886"/>
<rect x="707.77" y="250.40" width="4" height="29.60" fill="#52b886"/>
<rect x="715.52" y="271.00" width="1" height="23.00" fill="#e84a5d"/>
<rect x="714.02" y="277.00" width="4" height="4.00" fill="#e84a5d"/>
<rect x="721.78" y="275.00" width="1" height="5.00" fill="#52b886"/>
<rect x="720.28" y="277.00" width="4" height="2.00" fill="#52b886"/>
<rect x="728.03" y="260.50" width="1" height="23.50" fill="#e84a5d"/>
<rect x="726.53" y="269.40" width="4" height="9.10" fill="#e84a5d"/>
<rect x="734.29" y="257.00" width="1" height="21.80" fill="#52b886"/>
<rect x="732.79" y="269.50" width="4" height="3.10" fill="#52b886"/>
<rect x="740.54" y="249.30" width="1" height="28.20" fill="#e84a5d"/>
<rect x="739.04" y="254.30" width="4" height="18.30" fill="#e84a5d"/>
<rect x="746.79" y="229.00" width="1" height="27.60" fill="#e84a5d"/>
<rect x="745.29" y="250.90" width="4" height="3.00" fill="#e84a5d"/>
<rect x="753.05" y="246.60" width="1" height="3.70" fill="#e84a5d"/>
<rect x="751.55" y="249.00" width="4" height="1.30" fill="#e84a5d"/>
<rect x="759.30" y="244.00" width="1" height="16.60" fill="#e84a5d"/>
<rect x="757.80" y="246.00" width="4" height="2.60" fill="#e84a5d"/>
<line x1="112.4" y1="246.1" x2="792" y2="246.1" stroke="#3a98ff" stroke-width="1.5" stroke-dasharray="4 3.5"/>
<rect x="162.37" y="201.40" width="9" height="1.3" fill="#111"/>
<rect x="165.07" y="199.50" width="1.2" height="4" fill="#111"/>
<rect x="568.88" y="68.90" width="9" height="1.3" fill="#111"/>
<rect x="571.58" y="67.00" width="1.2" height="4" fill="#111"/>
<rect x="274.94" y="424.20" width="9" height="1.3" fill="#111"/>
<rect x="277.64" y="422.30" width="1.2" height="4" fill="#111"/>
<rect x="712.72" y="294.20" width="9" height="1.3" fill="#111"/>
<rect x="715.42" y="292.30" width="1.2" height="4" fill="#111"/>
<text transform="translate(171.20 197.70) scale(1 1.040)" font-size="15.4" fill="#ef4f6a" font-weight="bold">98.8290</text>
<text transform="translate(578.20 65.50) scale(1 1.040)" font-size="15.4" fill="#ef4f6a" font-weight="bold">100.3900</text>
<text transform="translate(284.20 439.20) scale(1 1.040)" font-size="15.4" fill="#4cb98a" font-weight="bold">96.2109</text>
<text transform="translate(721.80 309.20) scale(1 1.040)" font-size="15.4" fill="#4cb98a" font-weight="bold">97.7479</text>
<rect x="794.6" y="246.2" width="86" height="21" fill="#fff" stroke="#ff8000" stroke-width="1.2"/>
<text transform="translate(797.80 262.00) scale(1 0.960)" font-size="15.7" fill="#ff7f00">98.3176</text>
<path d="M874 235.6 L879 240.5 L869 240.5 Z M874 239.8 L879 245.2 L869 245.2 Z" fill="#ff8000"/>
<polyline points="115.64,635.00 121.89,652.00 128.15,622.40 134.40,645.60 140.66,621.60 146.91,613.00 153.16,617.00 159.42,584.40 165.67,650.00 171.93,602.40 178.18,616.40 184.43,620.40 190.69,640.50 196.94,641.00 203.20,652.70 209.45,603.70 215.70,616.50 221.96,604.70 228.21,642.00 234.47,664.40 240.72,636.70 246.97,631.00 253.23,653.30 259.48,647.00 265.74,665.00 271.99,710.00 278.24,668.00 284.50,642.00 290.75,622.40 297.01,646.20 303.26,651.90 309.51,598.70 315.77,563.60 322.02,587.30 328.28,604.30 334.53,612.50 340.78,618.00 347.04,606.40 353.29,621.00 359.55,587.00 365.80,554.00 372.05,538.00 378.31,507.60 384.56,558.00 390.82,533.60 397.07,550.00 403.32,580.00 409.58,607.00 415.83,595.00 422.09,587.60 428.34,565.00 434.59,572.00 440.85,568.00 447.10,568.40 453.36,580.00 459.61,590.60 465.86,552.00 472.12,525.00 478.37,513.00 484.63,500.00 490.88,480.60 497.13,487.60 503.39,546.00 509.64,562.00 515.90,557.40 522.15,574.00 528.40,577.00 534.66,612.40 540.91,600.00 547.17,574.00 553.42,566.00 559.67,519.00 565.93,511.20 572.18,516.00 578.44,516.50 584.69,570.60 590.94,603.90 597.20,606.50 603.45,613.20 609.71,627.80 615.96,638.50 622.21,690.40 628.47,662.40 634.72,669.00 640.98,650.30 647.23,631.30 653.48,695.00 659.74,720.80 665.99,716.00 672.25,725.30 678.50,728.60 684.75,697.90 691.01,692.30 697.26,645.70 703.52,689.50 709.77,726.00 716.02,717.50 722.28,719.60 728.53,698.60 734.79,702.50 741.04,666.60 747.29,658.60 753.55,657.10 759.80,651.70" fill="none" stroke="#41b0e2" stroke-width="1.1" stroke-linejoin="miter" shape-rendering="crispEdges"/>
<text class="cjk" x="113.5" y="17" font-size="15" font-weight="500" fill="#111" letter-spacing="0.35">美元指数</text>
<text class="cjk" x="174.5" y="17" font-size="15" fill="#ff7f00">【日线】</text>
<circle cx="239.5" cy="13.5" r="5" fill="none" stroke="#ff8000" stroke-width="1.1"/>
<path d="M234.5 13.5 H244.5 M239.5 8.5 V18.5" stroke="#ff8000" stroke-width="1"/>
<rect x="715.10" y="0" width="17.7" height="1" fill="#9cc6ec"/>
<rect x="715.85" y="1.4" width="16.2" height="15.65" fill="#fff" stroke="#3b8fdc" stroke-width="1.5"/>
<rect x="735.10" y="0" width="17.7" height="1" fill="#9cc6ec"/>
<rect x="735.85" y="1.4" width="16.2" height="15.65" fill="#fff" stroke="#3b8fdc" stroke-width="1.5"/>
<rect x="755.10" y="0" width="17.7" height="1" fill="#9cc6ec"/>
<rect x="755.85" y="1.4" width="16.2" height="15.65" fill="#fff" stroke="#3b8fdc" stroke-width="1.5"/>
<rect x="775.10" y="0" width="17.7" height="1" fill="#9cc6ec"/>
<rect x="775.85" y="1.4" width="16.2" height="15.65" fill="#fff" stroke="#3b8fdc" stroke-width="1.5"/>
<g fill="#1f78cf">
<rect x="722.8" y="3.1" width="2.1" height="3.4"/>
<rect x="722.8" y="8.1" width="2.1" height="2.2"/>
<rect x="722.8" y="12.1" width="2.1" height="3.2"/>
<rect x="718.0" y="8.1" width="2.9" height="2.2"/>
<rect x="726.6" y="8.1" width="3.4" height="2.2"/>
</g>
<g fill="#1f78cf" stroke="none">
<rect x="738.8" y="4.2" width="1.3" height="11"/>
<path d="M739.4 3 L737.8 5.6 L741.0 5.6 Z"/>
<path d="M739.4 16 L737.8 13.4 L741.0 13.4 Z"/>
<rect x="738.4" y="12.9" width="11" height="1.3"/>
<path d="M737.8 13.55 L740.4 11.9 L740.4 15.2 Z"/>
<path d="M750.4 13.55 L747.8 11.9 L747.8 15.2 Z"/>
<rect x="742.7" y="4.3" width="1.4" height="7.2"/>
<path d="M744.4 7.6 L747.6 4.8 L747.6 10.4 Z"/>
</g>
<g fill="#1f78cf" stroke="none">
<rect x="758.8" y="4.2" width="1.3" height="11"/>
<path d="M759.4 3 L757.8 5.6 L761.0 5.6 Z"/>
<path d="M759.4 16 L757.8 13.4 L761.0 13.4 Z"/>
<rect x="758.4" y="12.9" width="11" height="1.3"/>
<path d="M757.8 13.55 L760.4 11.9 L760.4 15.2 Z"/>
<path d="M770.4 13.55 L767.8 11.9 L767.8 15.2 Z"/>
<rect x="763.0" y="4.3" width="1.2" height="7.6"/>
<path d="M763.6 4.3 L768.8 8.1 L763.6 11.9 Z"/>
</g>
<rect x="778.6" y="3.8" width="3.4" height="10.6" fill="none" stroke="#1f78cf" stroke-width="1.2"/>
<rect x="781.8" y="7.9" width="4.4" height="2.4" fill="#1f78cf"/>
<path d="M785.8 5.4 L789.6 9.1 L785.8 12.8 Z" fill="#1f78cf"/>
<g transform="translate(34.9 461.6)">
<line x1="0.00" y1="-6.20" x2="0.00" y2="-8.70" stroke="#ff1a1a" stroke-width="1.3"/>
<line x1="4.88" y1="-4.88" x2="7.35" y2="-7.35" stroke="#ff1a1a" stroke-width="1.3"/>
<line x1="6.20" y1="-0.00" x2="8.70" y2="-0.00" stroke="#ff1a1a" stroke-width="1.3"/>
<line x1="4.88" y1="4.88" x2="7.35" y2="7.35" stroke="#ff1a1a" stroke-width="1.3"/>
<line x1="0.00" y1="6.20" x2="0.00" y2="8.70" stroke="#ff1a1a" stroke-width="1.3"/>
<line x1="-4.88" y1="4.88" x2="-7.35" y2="7.35" stroke="#ff1a1a" stroke-width="1.3"/>
<line x1="-6.20" y1="0.00" x2="-8.70" y2="0.00" stroke="#ff1a1a" stroke-width="1.3"/>
<line x1="-4.88" y1="-4.88" x2="-7.35" y2="-7.35" stroke="#ff1a1a" stroke-width="1.3"/>
<circle r="4.3" fill="#fff" stroke="#222" stroke-width="1.3"/>
<circle r="2.6" fill="#ff1010"/>
</g>
<text transform="translate(114.30 471.40) scale(1 1.110)" font-size="15" fill="#222">RSI(14,14,14)</text>
<text transform="translate(213.60 471.40) scale(1 1.110)" font-size="15" fill="#4f9df2">RSI1:44.5349</text>
<text transform="translate(315.30 471.40) scale(1 1.110)" font-size="15" fill="#5cc98c">RSI2:44.5349</text>
<text transform="translate(417.30 471.40) scale(1 1.110)" font-size="15" fill="#57bbea">RSI3:44.5349</text>
<rect x="202.70" y="729" width="1" height="6" fill="#c9d0da"/>
<text transform="translate(205.60 745.60) scale(1 1.110)" font-size="15.4" fill="#333" font-weight="bold">2025/09</text>
<rect x="340.28" y="729" width="1" height="6" fill="#c9d0da"/>
<text transform="translate(343.18 745.60) scale(1 1.110)" font-size="15.4" fill="#333" font-weight="bold">2025/10</text>
<rect x="484.13" y="729" width="1" height="6" fill="#c9d0da"/>
<text transform="translate(487.03 745.60) scale(1 1.110)" font-size="15.4" fill="#333" font-weight="bold">2025/11</text>
<rect x="609.21" y="729" width="1" height="6" fill="#c9d0da"/>
<text transform="translate(612.11 745.60) scale(1 1.110)" font-size="15.4" fill="#333" font-weight="bold">2025/12</text>
<rect x="23" y="729.2" width="87.6" height="30" fill="#fff" stroke="#d4dae3" stroke-width="1.2"/>
<text class="cjk" x="41.2" y="748.6" font-size="16" font-weight="bold" fill="#ff7700">日线</text>
<path d="M84.7 738.6 L89.8 747.6 L79.6 747.6 Z" fill="#ff7a00"/>
<text x="751.6" y="727.2" font-size="30.5" fill="#b49e84" letter-spacing="2.0" opacity="0.85">FX678</text>
<text x="750.6" y="726.2" font-size="30.5" fill="#dbe7f5" letter-spacing="2.0">FX678</text>
<rect x="571" y="750" width="191" height="1" fill="#eef0f3"/>
</svg></body></html>
